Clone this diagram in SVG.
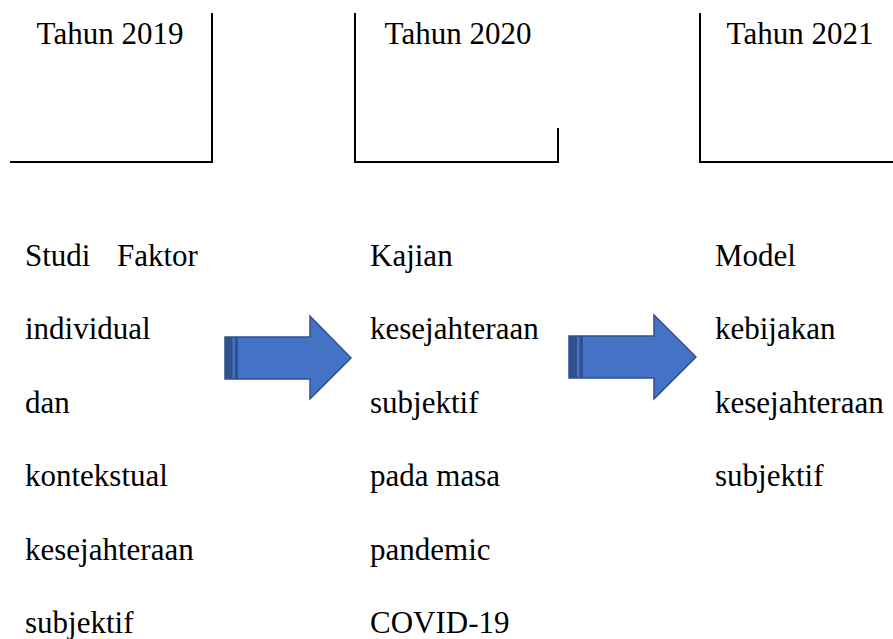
<svg xmlns="http://www.w3.org/2000/svg" width="893" height="639" viewBox="0 0 893 639">
<style>
.t{font-family:"Liberation Serif","Times New Roman",serif;font-size:31px;fill:#000}
.ln{stroke:#000;stroke-width:2;fill:none}
.arr{fill:#4472C4;stroke:#2F528F;stroke-width:1.5}
.band{fill:#2F528F}
.gap{fill:#4472C4}
</style>
<rect width="893" height="639" fill="#fff"/>
<g id="box2019">
<path class="ln" d="M10,162 H212 V13"/>
<text class="t" x="110" y="44" text-anchor="middle">Tahun 2019</text>
</g>
<g id="box2020">
<path class="ln" d="M355,13 V162 H558 V128"/>
<text class="t" x="458" y="44" text-anchor="middle">Tahun 2020</text>
</g>
<g id="box2021">
<path class="ln" d="M700,13 V162 H893"/>
<text class="t" x="800" y="44" text-anchor="middle">Tahun 2021</text>
</g>
<g id="col2019">
<text class="t" y="265.5"><tspan x="25">Studi</tspan><tspan x="117">Faktor</tspan></text>
<text class="t" x="25" y="339">individual</text>
<text class="t" x="25" y="412.5">dan</text>
<text class="t" x="25" y="486">kontekstual</text>
<text class="t" x="25" y="560">kesejahteraan</text>
<text class="t" x="25" y="633">subjektif</text>
</g>
<g id="col2020">
<text class="t" x="370" y="265.5">Kajian</text>
<text class="t" x="370" y="339">kesejahteraan</text>
<text class="t" x="370" y="412.5">subjektif</text>
<text class="t" x="370" y="486">pada masa</text>
<text class="t" x="370" y="560">pandemic</text>
<text class="t" x="370" y="633">COVID-19</text>
</g>
<g id="col2021">
<text class="t" x="715" y="265.5">Model</text>
<text class="t" x="715" y="339">kebijakan</text>
<text class="t" x="715" y="412.5">kesejahteraan</text>
<text class="t" x="715" y="486">subjektif</text>
</g>
<g id="connectors">
<g id="arrow1">
<polygon class="arr" points="225,337 310,337 310,316 351,358 310,399 310,379 225,379"/>
<rect class="band" x="225" y="337" width="13" height="42"/>
<rect class="gap" x="232.5" y="338" width="2.5" height="40"/>
</g>
<g id="arrow2">
<polygon class="arr" points="569,336 654,336 654,315 696,357 654,399 654,378 569,378"/>
<rect class="band" x="569" y="336" width="14" height="42"/>
<rect class="gap" x="577" y="337" width="2.5" height="40"/>
</g>
</g>
</svg>
